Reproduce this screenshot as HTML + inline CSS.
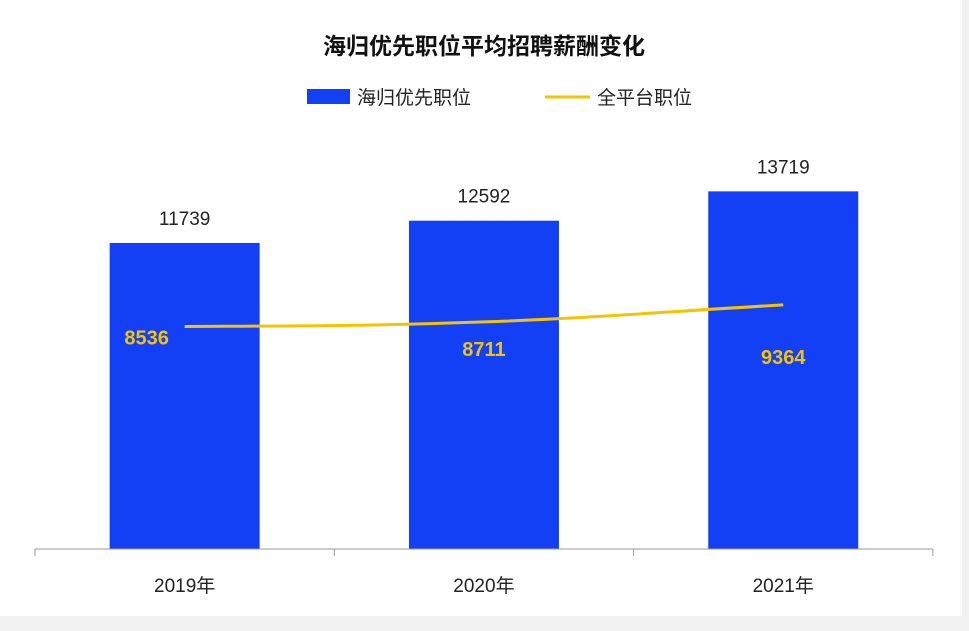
<!DOCTYPE html>
<html><head><meta charset="utf-8">
<style>
body{margin:0;background:#fff;font-family:"Liberation Sans","Noto Sans CJK SC",sans-serif;}
#wrap{position:relative;width:969px;height:631px;overflow:hidden;background:#fff;}
</style></head>
<body>
<div id="wrap">
<svg id="chart" width="969" height="631">
<rect x="0" y="616" width="969" height="15" fill="#f2f2f2"/>
<rect x="962" y="0" width="7" height="631" fill="#f2f2f2"/>
<text x="484" y="54" text-anchor="middle" font-size="23" font-weight="bold" fill="#111" font-family="Liberation Sans,Noto Sans CJK SC,sans-serif">海归优先职位平均招聘薪酬变化</text>
<g>
<rect x="307" y="89" width="43" height="15" fill="#1440f5"/>
<text x="357" y="104" font-size="19" fill="#222" font-family="Liberation Sans,Noto Sans CJK SC,sans-serif">海归优先职位</text>
<line x1="545" y1="97" x2="590" y2="97" stroke="#f5c400" stroke-width="3"/>
<text x="597" y="104" font-size="19" fill="#222" font-family="Liberation Sans,Noto Sans CJK SC,sans-serif">全平台职位</text>
</g>
<g id="bars"></g><g id="axis"></g><g id="line"></g>
</svg>
</div>
<script>
const categories=["2019年","2020年","2021年"];
const barValues=[11739,12592,13719];
const lineValues=[8536,8711,9364];
const NS="http://www.w3.org/2000/svg";
const baseY=549, scale=0.02607, x0=35, step=299.3;
function yS(v){return baseY-v*scale;}
function xC(i){return x0+step*(i+0.5);}
function mk(tag,attrs,parent){const e=document.createElementNS(NS,tag);for(const k in attrs)e.setAttribute(k,attrs[k]);parent.appendChild(e);return e;}
const bars=document.getElementById('bars'),axis=document.getElementById('axis'),line=document.getElementById('line');
const font="Liberation Sans,Noto Sans CJK SC,sans-serif";
barValues.forEach((v,i)=>{
 const r=mk('rect',{x:xC(i)-75,y:yS(v),width:150,height:v*scale,fill:'#1440f5'},bars);
 
 
 const t=mk('text',{x:xC(i),y:yS(v)-18,'text-anchor':'middle','font-size':19,fill:'#222','font-family':font},bars);
 t.textContent=v;
 
 
});
const ax=mk('line',{x1:x0,y1:baseY,x2:x0+step*3,y2:baseY,stroke:'#999','stroke-width':1},axis);


for(let i=0;i<=3;i++){
 const tk=mk('line',{x1:x0+step*i,y1:baseY,x2:x0+step*i,y2:baseY+7,stroke:'#999'},axis);
 
 
}
categories.forEach((c,i)=>{
 const t=mk('text',{x:xC(i),y:592,'text-anchor':'middle','font-size':19,fill:'#222','font-family':font},axis);
 t.textContent=c;
 
 
});
const pts=lineValues.map((v,i)=>[xC(i),yS(v)]);
let d='M'+pts[0][0]+','+pts[0][1];
for(let i=1;i<pts.length;i++){
 const p0=pts[i-1],p1=pts[i],dx=(p1[0]-p0[0])/2.5;
 const s0=i>1?(pts[i][1]-pts[i-2][1])/(pts[i][0]-pts[i-2][0]):(p1[1]-p0[1])/(p1[0]-p0[0])*0.3;
 const s1=i<pts.length-1?(pts[i+1][1]-p0[1])/(pts[i+1][0]-p0[0]):(p1[1]-p0[1])/(p1[0]-p0[0]);
 d+=' C'+(p0[0]+dx)+','+(p0[1]+s0*dx)+' '+(p1[0]-dx)+','+(p1[1]-s1*dx)+' '+p1[0]+','+p1[1];
}
const pl=mk('path',{d:d,fill:'none',stroke:'#f5c400','stroke-width':3},line);


const offs=[[-38,18],[0,34],[0,59]];
lineValues.forEach((v,i)=>{
 const t=mk('text',{x:pts[i][0]+offs[i][0],y:pts[i][1]+offs[i][1],'text-anchor':'middle','font-size':20,'font-weight':'bold',fill:'#f5c400','font-family':font},line);
 t.textContent=v;
 
 
});
</script>
</body></html>
